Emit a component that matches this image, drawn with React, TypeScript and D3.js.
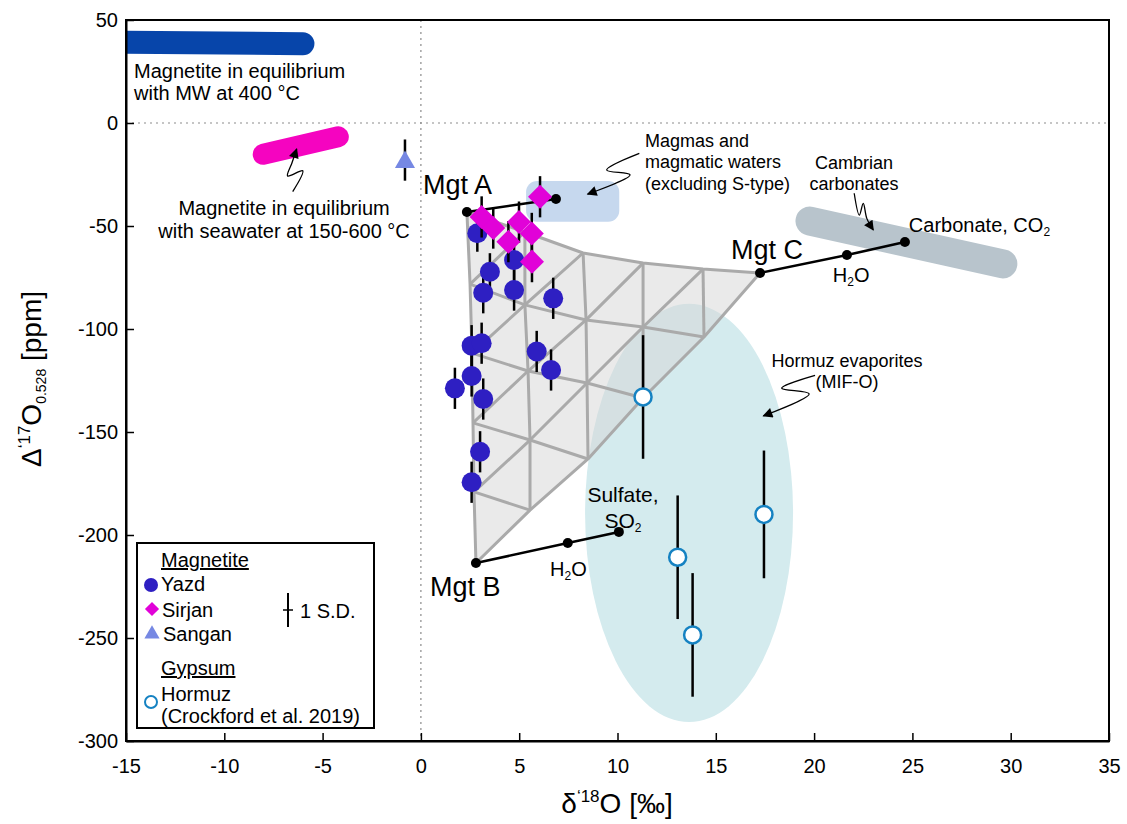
import React, { useEffect, useRef } from 'react';
import * as d3 from 'd3';

// ---- measured samples: δ'18O (‰), Δ'17O (ppm), 1 s.d. (ppm)
const yazdD18O = [2.87, 4.74, 3.51, 3.17, 4.74, 6.73, 2.58, 3.09, 5.89, 6.62, 2.58, 1.73, 3.17, 3.01, 2.58];
const yazdD17O = [-53.5, -66.5, -72.2, -82.4, -81.1, -85.1, -108.1, -106.9, -110.9, -119.9, -122.8, -128.8, -134.0, -159.6, -174.4];
const yazdSD = [9, 10, 9, 10, 10, 10, 10, 10, 10, 10, 10, 10, 10, 10, 10];

const sirjanD18O = [6.06, 3.09, 3.68, 4.99, 5.64, 4.45, 5.65];
const sirjanD17O = [-35.8, -45.6, -51.0, -48.1, -53.6, -57.6, -67.3];
const sirjanSD = [10, 10, 10, 10, 10, 10, 10];

const sanganD18O = [-0.81];
const sanganD17O = [-18.0];
const sanganSD = [10];

const hormuzD18O = [11.3, 13.06, 13.82, 17.45];
const hormuzD17O = [-133.0, -210.8, -248.5, -190.0];
const hormuzSD = [30, 30, 30, 31];

// ---- ternary mixing mesh, node id = fifths of A, B, C
const meshNode = ['500', '401', '302', '203', '104', '005', '410', '311', '212', '113', '014', '320', '221', '122', '023', '230', '131', '032', '140', '041', '050'];
const meshD18O = [2.34, 5.29, 8.25, 11.3, 14.35, 17.25, 2.5, 5.29, 8.4, 11.3, 14.4, 2.6, 5.45, 8.45, 11.3, 2.65, 5.55, 8.5, 2.7, 5.55, 2.8];
const meshD17O = [-43.2, -52.9, -63.1, -68.0, -70.9, -72.8, -78.2, -88.3, -95.6, -99.0, -103.9, -111.7, -120.4, -126.2, -133.5, -145.6, -153.9, -163.1, -179.1, -187.9, -213.6];

// ---- mixing lines from the magnetite end-members
const mixAD18O = [2.34, 6.87];
const mixAD17O = [-43.2, -36.9];
const mixBD18O = [2.8, 7.47, 10.07];
const mixBD17O = [-213.6, -203.9, -198.5];
const mixCD18O = [17.25, 21.67, 24.62];
const mixCD17O = [-72.8, -64.1, -57.8];

// ---- reference fields
const mwBandD18O = [-16, -6.0];
const mwBandD17O = [39.3, 38.5];
const seawaterBandD18O = [-8.02, -4.2];
const seawaterBandD17O = [-15.2, -6.7];
const carbonateBandD18O = [19.79, 29.6];
const carbonateBandD17O = [-47.6, -68.4];
const magmaBoxD18O = [5.35, 10.09];
const magmaBoxD17O = [-28.2, -47.9];
const hormuzField = [13.64, -189.3, 5.29, 101.5]; // cx, cy, rx, ry

const xTicks = [-15, -10, -5, 0, 5, 10, 15, 20, 25, 30, 35];
const yTicks = [-300, -250, -200, -150, -100, -50, 0, 50];

const FONT = '"Liberation Sans", Arial, Helvetica, sans-serif';

type Part = { t: string; size?: number; dy?: number };
const rich = (sel: any, parts: Part[]) => {
  parts.forEach(p => {
    const ts = sel.append('tspan').text(p.t);
    if (p.size) ts.attr('font-size', p.size);
    if (p.dy) ts.attr('dy', p.dy);
  });
};

export default function App() {
  const ref = useRef<SVGSVGElement>(null);

  useEffect(() => {
    const svg = d3.select(ref.current);
    svg.selectAll('*').remove();

    const x = d3.scaleLinear().domain([-15, 35]).range([126, 1109]);
    const y = d3.scaleLinear().domain([-300, 50]).range([741, 20]);

    const defs = svg.append('defs');
    defs.append('clipPath').attr('id', 'plot-clip')
      .append('rect').attr('x', 126).attr('y', 20).attr('width', 983).attr('height', 721);
    defs.append('marker').attr('id', 'arrowhead')
      .attr('viewBox', '0 0 10 10').attr('refX', 9).attr('refY', 5)
      .attr('markerWidth', 12).attr('markerHeight', 10).attr('markerUnits', 'userSpaceOnUse')
      .attr('orient', 'auto')
      .append('path').attr('d', 'M0,0 L10,5 L0,10 z').attr('fill', '#000');

    const plot = svg.append('g').attr('clip-path', 'url(#plot-clip)');

    // zero lines
    plot.append('line').attr('x1', x(0)).attr('x2', x(0)).attr('y1', 20).attr('y2', 741)
      .attr('stroke', '#8c8c8c').attr('stroke-width', 1.2).attr('stroke-dasharray', '2,4');
    plot.append('line').attr('x1', 126).attr('x2', 1109).attr('y1', y(0)).attr('y2', y(0))
      .attr('stroke', '#8c8c8c').attr('stroke-width', 1.2).attr('stroke-dasharray', '2,4');

    // fields
    const [hcx, hcy, hrx, hry] = hormuzField;
    plot.append('ellipse')
      .attr('cx', x(hcx)).attr('cy', y(hcy))
      .attr('rx', x(hcx + hrx) - x(hcx)).attr('ry', y(hcy - hry) - y(hcy))
      .attr('fill', '#d4ebee');

    plot.append('rect')
      .attr('x', x(magmaBoxD18O[0])).attr('y', y(magmaBoxD17O[0]))
      .attr('width', x(magmaBoxD18O[1]) - x(magmaBoxD18O[0]))
      .attr('height', y(magmaBoxD17O[1]) - y(magmaBoxD17O[0]))
      .attr('rx', 11).attr('fill', '#c6d8ee');

    const band = (xs: number[], ys: number[], color: string, w: number) => {
      plot.append('line')
        .attr('x1', x(xs[0])).attr('y1', y(ys[0])).attr('x2', x(xs[1])).attr('y2', y(ys[1]))
        .attr('stroke', color).attr('stroke-width', w).attr('stroke-linecap', 'round');
    };
    band(carbonateBandD18O, carbonateBandD17O, '#b8c4cc', 29);
    band(mwBandD18O, mwBandD17O, '#0745aa', 23);
    band(seawaterBandD18O, seawaterBandD17O, '#f504c0', 21);

    // mixing mesh
    const node = (id: string) => {
      const i = meshNode.indexOf(id);
      return [x(meshD18O[i]), y(meshD17O[i])] as [number, number];
    };
    const digit = (id: string, k: number) => +id[k];
    const boundary = [
      ...meshNode.filter(n => digit(n, 1) === 0).sort((a, b) => digit(a, 2) - digit(b, 2)),
      ...meshNode.filter(n => digit(n, 0) === 0).sort((a, b) => digit(b, 2) - digit(a, 2)),
      ...meshNode.filter(n => digit(n, 2) === 0).sort((a, b) => digit(b, 1) - digit(a, 1)),
    ];
    const lineGen = d3.line<[number, number]>();
    plot.append('path').attr('d', lineGen(boundary.map(node)) + 'Z')
      .attr('fill', '#d6d6d6').attr('fill-opacity', 0.5);

    const meshLines: string[][] = [];
    [0, 1, 2].forEach(f => {
      const sortKey = f === 2 ? 1 : 2;
      for (let v = 0; v <= 4; v++) {
        meshLines.push(meshNode.filter(n => digit(n, f) === v).sort((a, b) => digit(a, sortKey) - digit(b, sortKey)));
      }
    });
    plot.selectAll('.mesh').data(meshLines).enter().append('path')
      .attr('class', 'mesh')
      .attr('d', d => lineGen(d.map(node)))
      .attr('fill', 'none').attr('stroke', '#aaaaaa').attr('stroke-width', 3)
      .attr('stroke-linejoin', 'round');

    // mixing lines
    [[mixAD18O, mixAD17O], [mixBD18O, mixBD17O], [mixCD18O, mixCD17O]].forEach(([xs, ys]) => {
      const pts = xs.map((v, i) => [x(v), y(ys[i])] as [number, number]);
      plot.append('path').attr('d', lineGen(pts)).attr('fill', 'none')
        .attr('stroke', '#000').attr('stroke-width', 2.5);
      plot.selectAll(null).data(pts).enter().append('circle')
        .attr('cx', d => d[0]).attr('cy', d => d[1]).attr('r', 5).attr('fill', '#000');
    });

    // squiggly annotation arrows
    const curvy = d3.line<[number, number]>().curve(d3.curveCatmullRom.alpha(0.5));
    const squiggles: [number, number][][] = [
      [[-6.52, -33.3], [-6.01, -23.2], [-6.78, -25.7], [-6.56, -19.4], [-6.32, -12.6]],
      [[11.11, -14.7], [9.45, -22.8], [10.64, -25.2], [8.48, -34.5]],
      [[22.04, -34.1], [22.3, -44.7], [22.5, -39.0], [22.68, -46.3], [23.01, -51.9]],
      [[20.05, -122.5], [18.35, -128.7], [19.75, -131.5], [17.42, -142.2]],
    ];
    squiggles.forEach(s => {
      plot.append('path').attr('d', curvy(s.map(p => [x(p[0]), y(p[1])] as [number, number])))
        .attr('fill', 'none').attr('stroke', '#000').attr('stroke-width', 1.3)
        .attr('marker-end', 'url(#arrowhead)');
    });

    // error bars + markers
    const errBars = (xs: number[], ys: number[], sd: number[]) => {
      plot.selectAll(null).data(xs).enter().append('line')
        .attr('x1', d => x(d)).attr('x2', d => x(d))
        .attr('y1', (d, i) => y(ys[i] - sd[i])).attr('y2', (d, i) => y(ys[i] + sd[i]))
        .attr('stroke', '#000').attr('stroke-width', 2.5);
    };

    errBars(yazdD18O, yazdD17O, yazdSD);
    plot.selectAll(null).data(yazdD18O).enter().append('circle')
      .attr('cx', d => x(d)).attr('cy', (d, i) => y(yazdD17O[i])).attr('r', 10)
      .attr('fill', '#2e1fc2');

    errBars(sirjanD18O, sirjanD17O, sirjanSD);
    const diamond = d3.symbol(d3.symbolSquare, 17 * 17);
    plot.selectAll(null).data(sirjanD18O).enter().append('path')
      .attr('d', diamond())
      .attr('transform', (d, i) => `translate(${x(d)},${y(sirjanD17O[i])}) rotate(45)`)
      .attr('fill', '#e102d8');

    errBars(sanganD18O, sanganD17O, sanganSD);
    const tri = d3.symbol(d3.symbolTriangle, 175);
    plot.selectAll(null).data(sanganD18O).enter().append('path')
      .attr('d', tri())
      .attr('transform', (d, i) => `translate(${x(d)},${y(sanganD17O[i]) + 2})`)
      .attr('fill', '#7688e3');

    errBars(hormuzD18O, hormuzD17O, hormuzSD);
    plot.selectAll(null).data(hormuzD18O).enter().append('circle')
      .attr('cx', d => x(d)).attr('cy', (d, i) => y(hormuzD17O[i])).attr('r', 8.5)
      .attr('fill', '#fff').attr('stroke', '#1582c2').attr('stroke-width', 2.5);

    // text labels
    const label = (dx: number, dy: number, parts: Part[], size: number, anchor = 'start') => {
      const t = svg.append('text').attr('x', x(dx)).attr('y', y(dy))
        .attr('font-family', FONT).attr('font-size', size).attr('text-anchor', anchor).attr('fill', '#000');
      rich(t, parts);
      return t;
    };
    const lines = (dx: number, dy: number, rows: string[], size: number, gap: number, anchor = 'start') => {
      rows.forEach((r, i) => {
        svg.append('text').attr('x', x(dx)).attr('y', y(dy) + i * gap)
          .attr('font-family', FONT).attr('font-size', size).attr('text-anchor', anchor).text(r);
      });
    };
    lines(-14.59, 21.8, ['Magnetite in equilibrium', 'with MW at 400 °C'], 20, 22);
    lines(-6.96, -44.7, ['Magnetite in equilibrium', 'with seawater at 150-600 °C'], 20, 23, 'middle');
    lines(11.4, -11.5, ['Magmas and', 'magmatic waters', '(excluding S-type)'], 18, 21.7);
    lines(22.03, -22.5, ['Cambrian', 'carbonates'], 18, 21, 'middle');
    lines(21.67, -118.4, ['Hormuz evaporites', '(MIF-O)'], 18, 21, 'middle');
    lines(10.28, -184.0, ['Sulfate,'], 21, 0, 'middle');

    label(0.11, -34.5, [{ t: 'Mgt A' }], 27);
    label(0.46, -229.6, [{ t: 'Mgt B' }], 27);
    label(15.77, -66.0, [{ t: 'Mgt C' }], 27);
    label(6.57, -219.9, [{ t: 'H' }, { t: '2', size: 12, dy: 4 }, { t: 'O', dy: -4 }], 20);
    label(20.95, -77.2, [{ t: 'H' }, { t: '2', size: 12, dy: 4 }, { t: 'O', dy: -4 }], 20);
    label(10.28, -196.6, [{ t: 'SO' }, { t: '2', size: 12, dy: 4 }], 21, 'middle');
    label(24.82, -52.9, [{ t: 'Carbonate, CO' }, { t: '2', size: 12, dy: 4 }], 20);

    // axes
    const styleAxis = (g: any) => {
      g.attr('font-family', FONT).attr('font-size', 20);
      g.select('.domain').attr('stroke-width', 2);
      g.selectAll('.tick line').attr('stroke-width', 1.5);
      g.selectAll('.tick text').attr('fill', '#000');
    };
    svg.append('g').attr('transform', 'translate(0,741)')
      .call(d3.axisBottom(x).tickValues(xTicks).tickFormat(d => String(d))
        .tickSizeInner(-8).tickSizeOuter(0).tickPadding(18))
      .call(styleAxis);
    svg.append('g').attr('transform', 'translate(126,0)')
      .call(d3.axisLeft(y).tickValues(yTicks).tickFormat(d => String(d))
        .tickSizeInner(-8).tickSizeOuter(0).tickPadding(8))
      .call(styleAxis);

    svg.append('rect').attr('x', 126).attr('y', 20).attr('width', 983).attr('height', 721)
      .attr('fill', 'none').attr('stroke', '#000').attr('stroke-width', 2);

    // axis titles
    const xt = svg.append('text').attr('x', 617).attr('y', 813).attr('text-anchor', 'middle')
      .attr('font-family', FONT).attr('font-size', 28);
    rich(xt, [{ t: 'δ' }, { t: '‘18', size: 17, dy: -11 }, { t: 'O [‰]', dy: 11 }]);
    const yt = svg.append('text').attr('transform', 'translate(41,379) rotate(-90)')
      .attr('text-anchor', 'middle').attr('font-family', FONT).attr('font-size', 28);
    rich(yt, [{ t: 'Δ' }, { t: '‘17', size: 17, dy: -11 }, { t: 'O', dy: 11 }, { t: '0.528', size: 14, dy: 5 }, { t: ' [ppm]', dy: -5 }]);

    // legend
    const lg = svg.append('g').attr('font-family', FONT).attr('font-size', 20);
    lg.append('rect').attr('x', 137).attr('y', 543).attr('width', 237).attr('height', 185)
      .attr('fill', '#fff').attr('stroke', '#000').attr('stroke-width', 2);
    lg.append('text').attr('x', 161).attr('y', 567).attr('text-decoration', 'underline').text('Magnetite');
    lg.append('circle').attr('cx', 151).attr('cy', 585).attr('r', 7).attr('fill', '#2e1fc2');
    lg.append('text').attr('x', 161).attr('y', 591).text('Yazd');
    lg.append('path').attr('d', d3.symbol(d3.symbolSquare, 100)())
      .attr('transform', 'translate(152,609) rotate(45)').attr('fill', '#e102d8');
    lg.append('text').attr('x', 162).attr('y', 617).text('Sirjan');
    lg.append('path').attr('d', d3.symbol(d3.symbolTriangle, 100)())
      .attr('transform', 'translate(152,634)').attr('fill', '#7688e3');
    lg.append('text').attr('x', 163).attr('y', 641).text('Sangan');
    lg.append('text').attr('x', 161).attr('y', 675).attr('text-decoration', 'underline').text('Gypsum');
    lg.append('circle').attr('cx', 151).attr('cy', 702).attr('r', 6).attr('fill', '#fff')
      .attr('stroke', '#1582c2').attr('stroke-width', 2);
    lg.append('text').attr('x', 161).attr('y', 701).text('Hormuz');
    lg.append('text').attr('x', 161).attr('y', 723).text('(Crockford et al. 2019)');
    lg.append('line').attr('x1', 288).attr('x2', 288).attr('y1', 593).attr('y2', 627)
      .attr('stroke', '#000').attr('stroke-width', 2);
    lg.append('line').attr('x1', 283).attr('x2', 293).attr('y1', 610).attr('y2', 610)
      .attr('stroke', '#000').attr('stroke-width', 1.5);
    lg.append('text').attr('x', 300).attr('y', 618).text('1 S.D.');
  }, []);

  return (
    <svg ref={ref} width={1127} height={824}
      style={{ position: 'absolute', left: 0, top: 0, background: '#fff' }} />
  );
}
